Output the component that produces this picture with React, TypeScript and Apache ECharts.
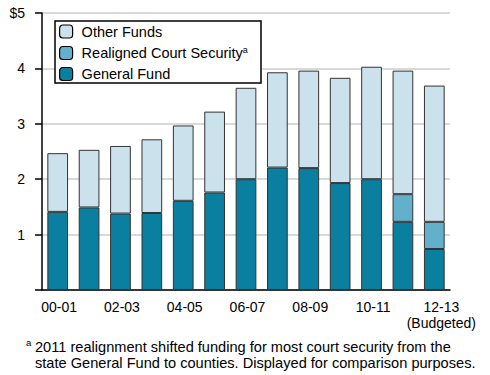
import React, { useEffect, useRef } from "react";
import * as echarts from "echarts";

const categories = ["00-01", "01-02", "02-03", "03-04", "04-05", "05-06", "06-07", "07-08", "08-09", "09-10", "10-11", "11-12", "12-13"];
const xTickLabels = ["00-01", "", "02-03", "", "04-05", "", "06-07", "", "08-09", "", "10-11", "", "12-13\n(Budgeted)"];
const generalFund = [1.41, 1.49, 1.38, 1.39, 1.61, 1.76, 2.0, 2.21, 2.2, 1.93, 2.0, 1.23, 0.74];
const realignedCourtSecurity = [0, 0, 0, 0, 0, 0, 0, 0, 0, 0, 0, 0.5, 0.49];
const otherFunds = [1.06, 1.04, 1.22, 1.33, 1.36, 1.46, 1.65, 1.72, 1.76, 1.9, 2.03, 2.23, 2.46];
const yTickLabels: Record<number, string> = { 0: "", 1: "1", 2: "2", 3: "3", 4: "4", 5: "$5" };

const FONT = "Liberation Sans, Arial, Helvetica, sans-serif";

export default function App() {
  const ref = useRef<HTMLDivElement>(null);
  useEffect(() => {
    if (!ref.current) return;
    const chart = echarts.init(ref.current, null, { renderer: "svg" });
    const border = { borderColor: "#333", borderWidth: 1 };
    chart.setOption({
      animation: false,
      textStyle: { fontFamily: FONT },
      grid: { left: 42, right: 40, top: 13, bottom: 85 },
      xAxis: {
        type: "category",
        data: categories,
        axisLine: { lineStyle: { color: "#000", width: 1.5 } },
        axisTick: { show: false },
        axisLabel: {
          interval: 0,
          color: "#000",
          fontSize: 14,
          fontFamily: FONT,
          margin: 9,
          lineHeight: 16,
          formatter: (_v: string, i: number) => {
            const t = xTickLabels[i];
            if (!t) return "";
            return t
              .split("\n")
              .map((line) => (i === categories.length - 1 ? `{l|${line}}` : `{c|${line}}`))
              .join("\n");
          },
          rich: {
            c: { fontSize: 14, fontFamily: FONT, color: "#000", lineHeight: 16, padding: [0, 0, 0, 3] },
            l: { fontSize: 14, fontFamily: FONT, color: "#000", lineHeight: 16, padding: [0, 0, 0, 14] },
          },
        },
      },
      yAxis: {
        type: "value",
        min: 0,
        max: 5,
        interval: 1,
        axisLine: { show: true, lineStyle: { color: "#000", width: 1.5 } },
        axisTick: { show: true, length: 7, lineStyle: { color: "#000", width: 1.5 } },
        splitLine: { lineStyle: { color: "#cccccc", width: 1.5 } },
        axisLabel: {
          color: "#000",
          fontSize: 14,
          fontFamily: FONT,
          margin: 17,
          formatter: (v: number) => yTickLabels[v] ?? "",
        },
      },
      legend: {
        orient: "vertical",
        left: 59,
        top: 24,
        itemWidth: 13,
        itemHeight: 13,
        itemGap: 6,
        padding: 0,
        z: 10,
        data: ["Other Funds", "Realigned Court Security", "General Fund"],
        itemStyle: { borderColor: "#000", borderWidth: 1.2 },
        textStyle: {
          color: "#000",
          fontSize: 14.5,
          fontFamily: FONT,
          padding: [0, 0, 0, 4],
          rich: {
            n: { fontSize: 14.5, fontFamily: FONT, color: "#000" },
            s: { fontSize: 9, fontFamily: FONT, color: "#000", verticalAlign: "top", padding: [0, 0, 7, 0] },
          },
        },
        formatter: (name: string) =>
          name === "Realigned Court Security" ? "{n|Realigned Court Security}{s|a}" : name,
      },
      graphic: [
        {
          type: "rect",
          z: 5,
          shape: { x: 55, y: 21, width: 206, height: 62 },
          style: { fill: "#fff", stroke: "#000", lineWidth: 1.5 },
        },
        {
          type: "text",
          left: 26,
          top: 337,
          style: { text: "a", fontSize: 9.5, fontFamily: FONT, fill: "#000" },
        },
        {
          type: "text",
          left: 35,
          top: 339,
          style: {
            text: "2011 realignment shifted funding for most court security from the\nstate General Fund to counties. Displayed for comparison purposes.",
            fontSize: 14.6,
            lineHeight: 16,
            fontFamily: FONT,
            fill: "#000",
          },
        },
      ],
      series: [
        {
          name: "General Fund",
          type: "bar",
          stack: "t",
          barWidth: "66%",
          data: generalFund,
          itemStyle: { color: "#0a7fa0", ...border },
        },
        {
          name: "Realigned Court Security",
          type: "bar",
          stack: "t",
          data: realignedCourtSecurity.map((v) => (v === 0 ? null : v)),
          itemStyle: { color: "#62b0cb", ...border },
        },
        {
          name: "Other Funds",
          type: "bar",
          stack: "t",
          data: otherFunds,
          itemStyle: { color: "#cbe2ec", ...border },
        },
      ],
    });
    return () => chart.dispose();
  }, []);
  return <div ref={ref} style={{ width: 490, height: 375, position: "absolute", left: 0, top: 0 }} />;
}
